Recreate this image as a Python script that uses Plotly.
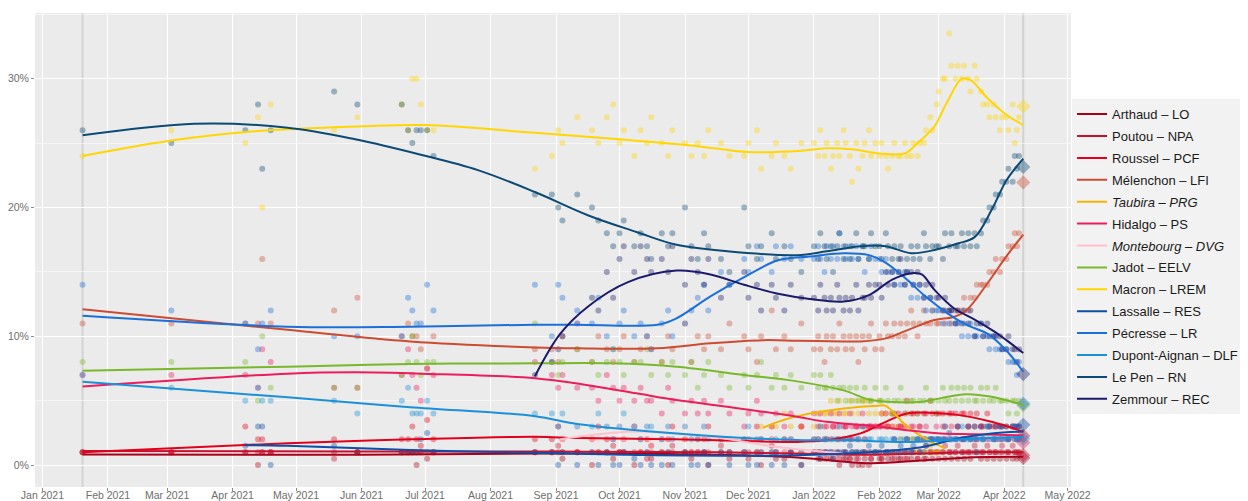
import plotly.graph_objects as go

# ---------------- poll dates ----------------
DATES_2021_A = ["2021-01-20", "2021-03-03", "2021-04-07", "2021-04-13", "2021-04-15", "2021-04-19",
                "2021-05-19", "2021-05-30", "2021-06-20", "2021-06-23", "2021-06-25", "2021-06-27",
                "2021-06-29", "2021-07-02", "2021-07-05", "2021-08-22"]
DATES_2021_B = ["2021-08-30", "2021-09-02", "2021-09-04", "2021-09-11", "2021-09-18", "2021-09-21",
                "2021-09-25", "2021-09-28", "2021-10-01", "2021-10-03", "2021-10-08", "2021-10-11",
                "2021-10-14", "2021-10-16", "2021-10-21", "2021-10-24", "2021-10-26", "2021-11-01",
                "2021-11-04", "2021-11-07", "2021-11-10", "2021-11-12", "2021-11-18", "2021-11-22",
                "2021-11-29", "2021-12-01", "2021-12-05", "2021-12-07", "2021-12-12", "2021-12-14",
                "2021-12-18", "2021-12-21", "2021-12-26"]
DATES_2022 = ["2022-01-01", "2022-01-03", "2022-01-04", "2022-01-06", "2022-01-07", "2022-01-09",
              "2022-01-10", "2022-01-12", "2022-01-13", "2022-01-15", "2022-01-16", "2022-01-18",
              "2022-01-19", "2022-01-21", "2022-01-22", "2022-01-24", "2022-01-25", "2022-01-27",
              "2022-01-28", "2022-01-30",
              "2022-02-01", "2022-02-02", "2022-02-04", "2022-02-05", "2022-02-07", "2022-02-08",
              "2022-02-10", "2022-02-11", "2022-02-13", "2022-02-14", "2022-02-16", "2022-02-17",
              "2022-02-19", "2022-02-20", "2022-02-22", "2022-02-23", "2022-02-25", "2022-02-26",
              "2022-02-28",
              "2022-03-01", "2022-03-03", "2022-03-04", "2022-03-06", "2022-03-07", "2022-03-09",
              "2022-03-10", "2022-03-12", "2022-03-13", "2022-03-15", "2022-03-16", "2022-03-18",
              "2022-03-19", "2022-03-21", "2022-03-22", "2022-03-24", "2022-03-25", "2022-03-27",
              "2022-03-28", "2022-03-30", "2022-03-31",
              "2022-04-02", "2022-04-03", "2022-04-05", "2022-04-06", "2022-04-07", "2022-04-08"]
POLL_DATES = DATES_2021_A + DATES_2021_B + DATES_2022
N = None

# ---------------- poll values (%) : 16 + 33 + (20+19+21+6) ----------------
ARTHAUD_POLLS = ([1, 1, 1, 0, 1, 1, 1, 1, 1, 1, 1, 0, 1, 0.5, 1, 1] +
                 [1, 1, 0.5, 1, 0, 1, 1, 0.5, 1, 1, 0, 1, 1, 0.5, 1, 0, 1, 1, 0.5, 1, 1, 0, 1, 0.5, 1, 0.5, 1, 0, 1, 0.5, 0.5, 1, 0] +
                 [1, 0.5, 1, 0.5, 0.5, 1, 0.5, 0.5, 0, 0.5, 0.5, 0.5, 0, 0.5, 0, 0, 0.5, 0, 0.5, 1] +
                 [0.5, 0.5, 1, 0.5, 0.5, 1, 0.5, 0.5, 1, 0.5, 0.5, 1, 0.5, 1, 0.5, 0.5, 1, 0.5, 1] +
                 [0.5, 1, 0.5, 1, 0.5, 1, 0.5, 1, 0.5, 1, 0.5, 1, 1, 0.5, 1, 0.5, 1, 0.5, 1, 0.5, 1] +
                 [0.5, 1, 0.5, 1, 0.5, 1])
POUTOU_POLLS = ([1, 1, 1, 1, 1, 1, 0.5, 1, 1, 1, 1, 1, 1, 1, 1, 1] +
                [1, 1.5, 1, 1, 1, 1, 1, 1.5, 1, 1, 1, 1, 0.5, 1, 1, 1, 1.5, 1, 1, 1, 1, 1, 1.5, 1, 1, 1, 1, 1, 1.5, 1, 1, 1, 1] +
                [1, 1, 0.5, 1, 1, 0.5, 1, 1, 0.5, 1, 1, 0.5, 1, 1, 0.5, 1, 1, 1, 0.5, 1] +
                [1, 0.5, 1, 1, 1, 0.5, 1, 1, 0.5, 1, 1, 1, 0.5, 1, 1, 1.5, 1, 1, 1] +
                [1, 1, 1.5, 1, 1, 1, 1.5, 1, 1, 1, 1, 1.5, 1, 1, 1, 1.5, 1, 1, 1, 1, 1.5] +
                [1, 1, 1.5, 1, 1, 1])
ROUSSEL_POLLS = ([1, 1, 3, 2, 2, 1, 2, 1, 2, 2, 3, 2, 1.5, 3.5, 2, 2] +
                 [2, 3, 2, 1, 2, 3, 2, 2, 1, 2, 3, 2, 2, 1.5, 2, 2, 3, 2, 1, 2, 2, 3, 2, 1, 2, 2, 3, 2, 2, 1, 2, 2, 3] +
                 [2, 2, 1, 2, 2, 2, 3, 2, 2, 2, 3, 2, 2, 3, 2, 3, 2, 3, 3, 3] +
                 [3, 4, 3, 3, 4, 4, 4, 3, 4, 5, 4, 4, 4, 3, 4, 4, 5, 4, 4] +
                 [4, 4, 3, 4, 4, 4, 3, 4, 4, 3, 4, 3, 4, 3, 3, 4, 3, 3, 3, 3, 3] +
                 [3, 2, 3, 3, 2, 3])
MELENCHON_POLLS = ([11, 11, 11, 11, 16, 11, 12, 13, 10, 11, 10, 10, 9, 7.5, 10, 9] +
                   [9, 8, 10, 9, 8, 10, 9, 8, 9, 10, 8, 9, 10, 9, 8, 10, 9, 11, 8, 10, 9, 10, 9, 11, 10, 9, 8, 10, 12, 9, 10, 9, 11] +
                   [9, 10, 9, 8, 10, 9, 10, 9, 11, 10, 9, 10, 9, 10, 8, 10, 9, 10, 11, 9] +
                   [10, 9, 11, 10, 10, 11, 10, 11, 10, 11, 12, 11, 10, 11, 12, 11, 11, 12, 11] +
                   [11, 12, 11, 12, 11, 12, 12, 12, 13, 12, 13, 13, 14, 14, 14, 14, 15, 15, 16, 15, 16] +
                   [16, 17, 17, 18, 17, 18])
TAUBIRA_POLLS = ([N] * 16 +
                 [N] * 27 + [3, 3, 3, 4, 3, 3] +
                 [3, 4, 3, 4, 4, 5, 4, 4, 5, 4, 4, 5, 4, 5, 4, 5, 5, 4, 5, 4] +
                 [5, 4, 4, 3, 4, 3, 3, 2, 3, 2, 2, 2, 1, 2, 1, 1, 1.5, 1, 1] +
                 [1] + [N] * 20 +
                 [N] * 6)
HIDALGO_POLLS = ([7, 7, 7, 6, 9, 8, 6, 6, 7, 9, 7, 6, 5, 7.5, 7, 8] +
                 [7, 6, 7, 6, 6, 5, 7, 6, 5, 6, 5, 6, 5, 5, 4, 6, 5, 4, 5, 4, 5, 4, 5, 4, 3, 4, 5, 4, 3, 4, 3, 4, 3] +
                 [4, 3, 4, 3, 3, 4, 3, 3, 4, 3, 3, 4, 3, 3, 3, 4, 3, 3, 3, 3] +
                 [3, 3, 4, 3, 3, 2, 3, 3, 3, 2, 3, 3, 2, 3, 2, 3, 2, 2, 3] +
                 [2, 3, 2, 2, 3, 2, 3, 2, 2, 3, 2, 2, 2, 3, 2, 2, 3, 2, 2, 2, 2] +
                 [2, 2, 3, 2, 2, 2])
MONTEBOURG_POLLS = ([N] * 16 +
                    [N, N, 2, 3, 2, 2, 3, 2, 3, 2, 3, 2, 3, 2, 2, 3, 2, 3, 2, 2, 3, 2, 2, 2, 1, 2, 2, 1, 2, 1, 1, 2, 1] +
                    [1, 1, 1, 0.5, 1, 1, 1, 0.5, 1] + [N] * 11 +
                    [N] * 19 + [N] * 21 + [N] * 6)
JADOT_POLLS = ([8, 8, 8, 5, 10, 6, 6, 6, 7, 8, 10, 8, 7, 8, 8, 11] +
               [8, 7, 8, 9, 8, 7, 8, 9, 8, 7, 8, 8, 9, 7, 8, 7, 8, 7, 8, 6, 7, 8, 7, 6, 7, 6, 7, 8, 6, 7, 6, 7, 6] +
               [7, 6, 7, 6, 6, 7, 6, 5, 6, 6, 5, 6, 5, 6, 5, 5, 6, 5, 5, 6] +
               [5, 5, 6, 5, 4, 5, 5, 6, 5, 4, 5, 5, 4, 5, 5, 6, 5, 5, 4] +
               [5, 6, 5, 5, 6, 5, 6, 5, 6, 5, 6, 5, 5, 6, 5, 6, 5, 5, 6, 5, 5] +
               [5, 4, 5, 5, 4, 5])
MACRON_POLLS = ([24, 26, 25, 27, 20, 28, 26, 27, 28, 26, 30, 30, 28, 26, 26, 23] +
                [24, 26, 25, 27, 26, 25, 27, 28, 25, 26, 24, 26, 25, 27, 25, 24, 26, 25, 24, 25, 24, 26, 25, 24, 24, 25, 26, 23, 24, 25, 24, 23, 25] +
                [25, 24, 26, 24, 25, 23, 24, 25, 24, 26, 25, 24, 22, 25, 23, 24, 25, 26, 24, 25] +
                [24, 25, 24, 23, 24, 25, 24, 24, 25, 24, 24, 25, 24, 25, 25, 26, 27, 26, 28] +
                [29, 30, 30, 33.5, 31, 30, 31, 30, 31, 30, 29, 31, 30, 29, 28, 28, 27, 28, 27, 26, 27] +
                [27, 26, 28, 25, 26, 27])
LASSALLE_POLLS = ([N, N, 1.5, 3, 3, 0, 1.5, 1, 1, 1, 1, 1, 2, 2.5, 1, 1] +
                  [1, 0, 1, 0, 1, 0, 1, 0, 0, 1, 0.5, 0, 1, 0, 0, 1, 0, 1, 0, 0, 1, 0, 1, 0, 1, 0, 0, 1, 0, 1, 0, 1, 0] +
                  [1, 1, 0.5, 1, 1, 1, 0.5, 1, 1, 1, 1, 1.5, 1, 1, 1, 1, 1, 1.5, 1, 1] +
                  [1, 1.5, 1, 1, 1, 2, 1, 1.5, 1, 2, 1, 1.5, 2, 1, 2, 1.5, 2, 2, 2] +
                  [2, 2, 2, 2.5, 2, 2, 3, 2, 2, 3, 2, 3, 2, 3, 2, 3, 3, 2, 3, 3, 3] +
                  [3, 2, 3, 3, 3, 3])
PECRESSE_POLLS = ([14, 12, 11, 9, 11, 12, 10, 10, 10, 13, 12, 11, 11, 14, 12, 14] +
                  [10, 14, 13, 12, 11, 13, 10, 9, 11, 12, 10, 11, 10, 9, 11, 12, 10, 11, 12, 13, 14, 12, 15, 14, 16, 15, 17, 16, 15, 17, 16, 17, 16] +
                  [16, 17, 16, 15, 17, 16, 17, 16, 18, 17, 16, 17, 16, 17, 16, 17, 15, 16, 17, 16] +
                  [16, 15, 16, 15, 15, 14, 15, 14, 14, 15, 13, 14, 13, 14, 13, 12, 13, 12, 12] +
                  [12, 11, 12, 11, 12, 11, 11, 10, 11, 10, 11, 10, 10, 11, 10, 10, 9, 10, 9, 9, 9] +
                  [9, 8, 8, 8, 7, 8])
DUPONT_AIGNAN_POLLS = ([7, 6, 5, 6, 5, 5, 5, 4, 5, 6, 4, 4, 4, 5, 4, 4] +
                       [4, 3, 4, 3, 3, 4, 3, 2, 3, 4, 3, 2, 3, 3, 2, 3, 2, 3, 2, 2, 3, 2, 2, 1, 2, 3, 2, 2, 1, 2, 2, 2, 1] +
                       [2, 2, 3, 2, 2, 1, 2, 2, 3, 2, 2, 2, 1, 2, 2, 3, 2, 2, 2, 1] +
                       [2, 2, 2, 1, 2, 2, 1, 2, 2, 2, 1, 2, 2, 2, 1, 2, 2, 2, 2] +
                       [2, 2, 3, 2, 2, 2, 2, 3, 2, 2, 2, 2, 1, 2, 2, 3, 2, 2, 2, 2, 2] +
                       [2, 2, 3, 2, 2, 2])
LE_PEN_POLLS = ([26, 25, 26, 28, 23, 26, 29, 28, 28, 26, 25, 26, 26, 26, 24, 21] +
                [21, 20, 19, 21, 20, 19, 18, 17, 18, 19, 17, 18, 17, 16, 18, 17, 18, 20, 17, 16, 18, 17, 16, 15, 20, 17, 16, 17, 18, 16, 17, 16, 15] +
                [17, 16, 18, 17, 16, 17, 15, 17, 18, 16, 17, 16, 17, 18, 16, 17, 17, 16, 18, 17] +
                [17, 16, 18, 17, 16, 17, 16, 17, 15, 16, 17, 16, 17, 16, 18, 17, 16, 17, 17] +
                [17, 16, 18, 17, 18, 17, 17, 18, 17, 18, 17, 18, 17, 18, 19, 19, 20, 20, 21, 21, 22] +
                [22, 23, 22, 24, 23, 24])
ZEMMOUR_POLLS = ([N] * 15 + [7] +
                 [8, 9, 10, 11, 13, 12, 15, 13, 16, 17, 15, 17, 16, 15, 16, 15, 17, 14, 16, 15, 14, 16, 13, 14, 15, 13, 14, 12, 14, 13, 12, 14, 13] +
                 [13, 12, 14, 13, 12, 13, 12, 14, 13, 12, 13, 12, 13, 14, 12, 13, 13, 14, 13, 14] +
                 [14, 13, 15, 14, 15, 14, 15, 16, 14, 15, 15, 14, 15, 14, 13, 14, 13, 14, 13] +
                 [13, 12, 13, 12, 12, 11, 12, 11, 12, 11, 12, 10, 11, 11, 10, 11, 10, 10, 10, 10, 9] +
                 [9, 10, 9, 9, 8, 9])

# ---------------- smoothed trends ----------------
ARTHAUD_TREND_DATES = ["2021-01-20", "2021-06-01", "2021-09-01", "2021-11-15", "2021-12-24", "2022-01-27", "2022-02-20", "2022-03-15", "2022-04-10"]
ARTHAUD_TREND = [0.83, 0.8, 0.9, 0.8, 0.6, 0.15, 0.35, 0.6, 0.65]
POUTOU_TREND_DATES = ["2021-01-20", "2021-06-01", "2021-09-01", "2021-11-15", "2021-12-24", "2022-01-20", "2022-02-20", "2022-03-15", "2022-04-10"]
POUTOU_TREND = [1.1, 1.05, 1.05, 1.0, 0.9, 0.8, 0.9, 1.0, 1.0]
ROUSSEL_TREND_DATES = ["2021-01-20", "2021-04-27", "2021-06-24", "2021-08-22", "2021-09-11", "2021-10-28", "2021-12-24",
                       "2022-01-07", "2022-01-23", "2022-02-04", "2022-02-14", "2022-02-27", "2022-03-10", "2022-03-26", "2022-04-10"]
ROUSSEL_TREND = [1.0, 1.7, 2.0, 2.2, 2.1, 2.0, 1.8, 1.94, 2.46, 3.36, 4.0, 4.05, 3.9, 3.36, 2.6]
MELENCHON_TREND_DATES = ["2021-01-20", "2021-04-27", "2021-06-24", "2021-08-22", "2021-09-11", "2021-10-19", "2021-11-13", "2021-12-08",
                         "2021-12-24", "2022-01-15", "2022-01-23", "2022-02-04", "2022-02-16", "2022-02-27", "2022-03-08", "2022-03-14",
                         "2022-03-24", "2022-04-02", "2022-04-10"]
MELENCHON_TREND = [12.1, 10.5, 9.6, 9.14, 9.07, 9.07, 9.46, 9.7, 9.66, 9.6, 9.6, 9.84, 10.6, 11.27, 11.5, 12.0, 14.1, 16.2, 17.9]
TAUBIRA_TREND_DATES = ["2021-12-08", "2021-12-15", "2021-12-30", "2022-01-15", "2022-01-31", "2022-02-04", "2022-02-14", "2022-02-24", "2022-03-04"]
TAUBIRA_TREND = [2.9, 3.36, 4.0, 4.4, 4.6, 4.6, 3.0, 1.94, 1.3]
HIDALGO_TREND_DATES = ["2021-01-20", "2021-04-27", "2021-05-29", "2021-06-29", "2021-08-22", "2021-09-16", "2021-10-09", "2021-10-28",
                       "2021-11-21", "2021-12-24", "2022-01-07", "2022-01-31", "2022-02-14", "2022-03-02", "2022-03-18", "2022-04-10"]
HIDALGO_TREND = [6.1, 7.1, 7.2, 7.1, 6.75, 6.2, 5.57, 5.05, 4.53, 3.75, 3.36, 3.0, 2.7, 2.46, 2.4, 2.3]
MONTEBOURG_TREND_DATES = ["2021-09-03", "2021-10-08", "2021-11-13", "2021-12-15", "2022-01-15"]
MONTEBOURG_TREND = [2.0, 2.6, 2.2, 1.4, 0.9]
JADOT_TREND_DATES = ["2021-01-20", "2021-04-27", "2021-06-24", "2021-08-22", "2021-09-27", "2021-10-28", "2021-11-29", "2021-12-24",
                     "2022-01-15", "2022-01-27", "2022-02-07", "2022-02-20", "2022-03-02", "2022-03-14", "2022-03-26", "2022-04-10"]
JADOT_TREND = [7.33, 7.64, 7.85, 7.9, 7.9, 7.64, 7.0, 6.5, 5.8, 5.1, 4.9, 4.9, 5.2, 5.5, 5.3, 4.66]
MACRON_TREND_DATES = ["2021-01-20", "2021-03-03", "2021-04-10", "2021-06-01", "2021-07-01", "2021-08-22", "2021-10-01", "2021-11-05",
                      "2021-12-01", "2021-12-26", "2022-01-07", "2022-01-20", "2022-02-01", "2022-02-13", "2022-02-19", "2022-02-27",
                      "2022-03-05", "2022-03-12", "2022-03-16", "2022-03-24", "2022-04-02", "2022-04-10"]
MACRON_TREND = [24.0, 25.2, 25.9, 26.3, 26.4, 25.8, 25.3, 24.8, 24.3, 24.4, 24.6, 24.5, 24.2, 24.2, 25.0, 26.3,
                28.2, 30.0, 29.9, 28.5, 27.2, 26.4]
LASSALLE_TREND_DATES = ["2021-04-07", "2021-04-27", "2021-06-24", "2021-08-22", "2021-10-12", "2021-12-20", "2022-01-30",
                        "2022-02-22", "2022-03-10", "2022-03-26", "2022-04-10"]
LASSALLE_TREND = [1.55, 1.5, 1.17, 0.96, 0.78, 0.75, 1.03, 1.42, 2.07, 2.46, 2.6]
PECRESSE_TREND_DATES = ["2021-01-20", "2021-04-27", "2021-06-24", "2021-08-22", "2021-09-11", "2021-10-19", "2021-10-28", "2021-11-13",
                        "2021-11-29", "2021-12-15", "2021-12-30", "2022-01-15", "2022-01-27", "2022-02-04", "2022-02-14", "2022-02-22",
                        "2022-03-05", "2022-03-14", "2022-03-24", "2022-04-02", "2022-04-10"]
PECRESSE_TREND = [11.6, 10.75, 10.75, 10.9, 10.9, 10.9, 11.4, 13.1, 14.6, 15.9, 16.2, 16.45, 16.3, 15.7, 14.4, 13.2,
                  11.8, 10.9, 10.2, 8.9, 7.25]
DUPONT_AIGNAN_TREND_DATES = ["2021-01-20", "2021-04-27", "2021-06-24", "2021-08-22", "2021-09-11", "2021-10-28", "2021-12-24",
                             "2022-01-15", "2022-02-14", "2022-03-18", "2022-04-10"]
DUPONT_AIGNAN_TREND = [6.47, 5.26, 4.5, 3.8, 3.2, 2.46, 1.94, 1.94, 1.8, 2.07, 2.2]
LE_PEN_TREND_DATES = ["2021-01-20", "2021-03-14", "2021-04-27", "2021-05-29", "2021-06-29", "2021-07-26", "2021-08-22", "2021-09-16",
                      "2021-10-09", "2021-10-28", "2021-11-21", "2021-12-24", "2022-01-07", "2022-01-23", "2022-02-04", "2022-02-16",
                      "2022-02-27", "2022-03-10", "2022-03-18", "2022-03-26", "2022-04-02", "2022-04-10"]
LE_PEN_TREND = [25.6, 26.5, 26.2, 25.3, 24.1, 22.9, 21.2, 19.4, 18.1, 17.1, 16.6, 16.3, 16.6, 17.0, 17.0, 16.45,
                16.7, 17.2, 17.7, 19.8, 22.1, 23.8]
ZEMMOUR_TREND_DATES = ["2021-08-22", "2021-09-03", "2021-09-16", "2021-10-05", "2021-10-28", "2021-11-13", "2021-11-29", "2021-12-15",
                       "2021-12-30", "2022-01-15", "2022-01-27", "2022-02-07", "2022-02-16", "2022-02-21", "2022-02-27", "2022-03-08",
                       "2022-03-18", "2022-03-27", "2022-04-02", "2022-04-10"]
ZEMMOUR_TREND = [6.9, 10.2, 12.3, 14.2, 15.1, 14.8, 14.0, 13.3, 12.9, 12.7, 13.2, 14.4, 14.9, 14.8, 13.6, 12.2,
                 11.3, 10.4, 9.7, 8.7]

# ---------------- first-round results ----------------
ELECTION_DAY = "2022-04-10"
FIRST_POLL_DAY = "2021-01-20"
RESULTS = [0.56, 0.77, 2.28, 21.95, None, 1.75, None, 4.63, 27.85, 3.13, 4.78, 2.06, 23.15, 7.07]

CANDIDATES = ["Arthaud – LO", "Poutou – NPA", "Roussel – PCF", "Mélenchon – LFI", "<i>Taubira – PRG</i>",
              "Hidalgo – PS", "<i>Montebourg – DVG</i>", "Jadot – EELV", "Macron – LREM", "Lassalle – RES",
              "Pécresse – LR", "Dupont-Aignan – DLF", "Le Pen – RN", "Zemmour – REC"]
COLORS = ["#a6001a", "#c8102e", "#e2001a", "#cc4b32", "#f2b600", "#ec1d5b", "#ffc0cb", "#78b82a",
          "#ffd600", "#0d4ea6", "#1a6fd9", "#1a90d8", "#0c4a74", "#1b1a6b"]

POLLS = [ARTHAUD_POLLS, POUTOU_POLLS, ROUSSEL_POLLS, MELENCHON_POLLS, TAUBIRA_POLLS, HIDALGO_POLLS,
         MONTEBOURG_POLLS, JADOT_POLLS, MACRON_POLLS, LASSALLE_POLLS, PECRESSE_POLLS, DUPONT_AIGNAN_POLLS,
         LE_PEN_POLLS, ZEMMOUR_POLLS]
TRENDS = [(ARTHAUD_TREND_DATES, ARTHAUD_TREND), (POUTOU_TREND_DATES, POUTOU_TREND),
          (ROUSSEL_TREND_DATES, ROUSSEL_TREND), (MELENCHON_TREND_DATES, MELENCHON_TREND),
          (TAUBIRA_TREND_DATES, TAUBIRA_TREND), (HIDALGO_TREND_DATES, HIDALGO_TREND),
          (MONTEBOURG_TREND_DATES, MONTEBOURG_TREND), (JADOT_TREND_DATES, JADOT_TREND),
          (MACRON_TREND_DATES, MACRON_TREND), (LASSALLE_TREND_DATES, LASSALLE_TREND),
          (PECRESSE_TREND_DATES, PECRESSE_TREND), (DUPONT_AIGNAN_TREND_DATES, DUPONT_AIGNAN_TREND),
          (LE_PEN_TREND_DATES, LE_PEN_TREND), (ZEMMOUR_TREND_DATES, ZEMMOUR_TREND)]

for name, vals in zip(CANDIDATES, POLLS):
    assert len(vals) == len(POLL_DATES), (name, len(vals), len(POLL_DATES))
for d, v in TRENDS:
    assert len(d) == len(v)

FONT = "Liberation Sans, Arial, sans-serif"
fig = go.Figure()

# poll points
for name, color, vals in zip(CANDIDATES, COLORS, POLLS):
    xs = [d for d, v in zip(POLL_DATES, vals) if v is not None]
    ys = [v for v in vals if v is not None]
    fig.add_trace(go.Scatter(x=xs, y=ys, mode="markers", legendgroup=name, showlegend=False,
                             marker=dict(color=color, size=6, opacity=0.38, line=dict(width=0)),
                             hoverinfo="skip"))

# result diamonds
for name, color, res in zip(CANDIDATES, COLORS, RESULTS):
    if res is None:
        continue
    fig.add_trace(go.Scatter(x=[ELECTION_DAY], y=[res], mode="markers", legendgroup=name, showlegend=False,
                             marker=dict(color=color, size=11, symbol="diamond", opacity=0.4, line=dict(width=0)),
                             hoverinfo="skip"))

# trend lines
for name, color, (td, tv) in zip(CANDIDATES, COLORS, TRENDS):
    fig.add_trace(go.Scatter(x=td, y=tv, mode="lines", name=name, legendgroup=name,
                             line=dict(color=color, width=2, shape="spline", smoothing=1.0)))

for d in (FIRST_POLL_DAY, ELECTION_DAY):
    fig.add_shape(type="line", xref="x", yref="paper", x0=d, x1=d, y0=0, y1=1,
                  line=dict(color="#d2d2d2", width=2), layer="below")

# the page body adds an 8px offset, so the figure is drawn 8px smaller
fig.update_layout(
    width=1240, height=493,
    margin=dict(l=27, r=173, t=5, b=14),
    paper_bgcolor="white", plot_bgcolor="#ebebeb",
    font=dict(family=FONT),
    showlegend=True,
    legend=dict(x=1.001, y=0.486, xanchor="left", yanchor="middle", bgcolor="#f2f2f2",
                font=dict(size=13, color="#1a1a1a", family=FONT), tracegroupgap=2,
                itemwidth=30),
    xaxis=dict(type="date", range=["2020-12-28 12:00", "2022-05-02 14:00"], dtick="M1",
               tick0="2021-01-01", tickformat="%b %Y", showgrid=True, gridcolor="white", gridwidth=1,
               ticks="outside", ticklen=3, tickcolor="#8a8a8a", tickfont=dict(size=10.5, color="#6e6e6e"),
               ticklabelstandoff=-5,
               zeroline=False, automargin=False, showline=False),
    yaxis=dict(range=[-1.7, 35.1], dtick=10, tick0=0, ticksuffix="%", showgrid=True, gridcolor="white",
               gridwidth=1.2, ticks="outside", ticklen=3, tickcolor="#8a8a8a",
               tickfont=dict(size=10.5, color="#6e6e6e"), zeroline=False, automargin=False,
               minor=dict(dtick=5, tick0=0, showgrid=True, gridcolor="rgba(255,255,255,0.55)", gridwidth=0.6)),
)

fig.write_html("out.html")
